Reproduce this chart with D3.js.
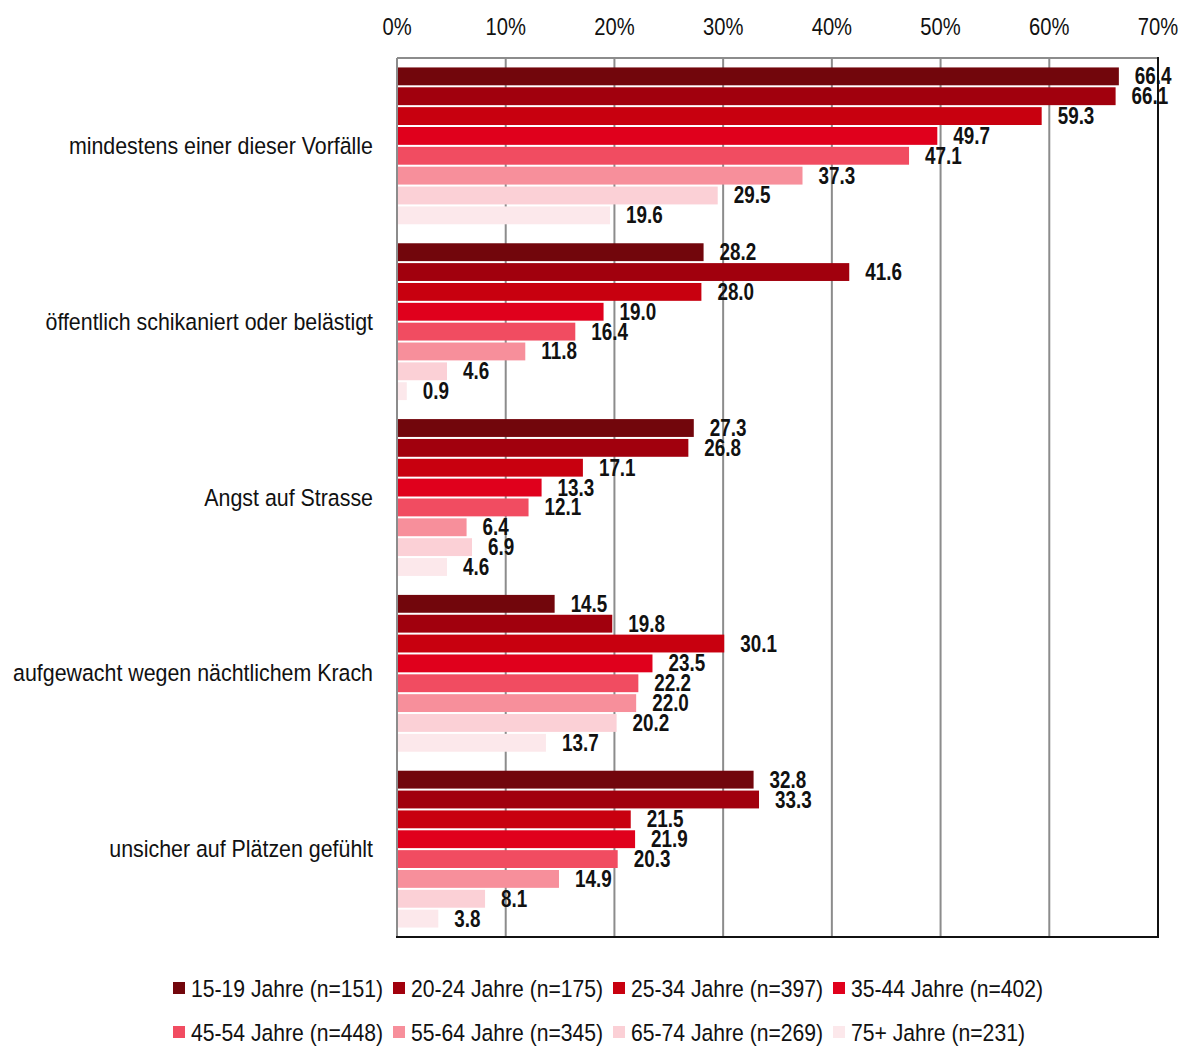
<!DOCTYPE html>
<meta charset="utf-8">
<script src="https://cdn.jsdelivr.net/npm/d3@7"></script>
<style>
body { margin: 0; background: #fff; }
svg text { font-family: "Liberation Sans", Arial, sans-serif; fill: #111; }
.grid line { stroke: #8c8c8c; stroke-width: 2; }
.val { font-weight: bold; font-size: 23px; }
</style>
<svg width="1182" height="1046"></svg>
<script>

// Kategorien (von oben nach unten)
var categories = [
    "mindestens einer dieser Vorfälle",
    "öffentlich schikaniert oder belästigt",
    "Angst auf Strasse",
    "aufgewacht wegen nächtlichem Krach",
    "unsicher auf Plätzen gefühlt"
];

var groups = [
    "15-19 Jahre (n=151)",
    "20-24 Jahre (n=175)",
    "25-34 Jahre (n=397)",
    "35-44 Jahre (n=402)",
    "45-54 Jahre (n=448)",
    "55-64 Jahre (n=345)",
    "65-74 Jahre (n=269)",
    "75+ Jahre (n=231)"
];

// Werte pro Altersgruppe, gleiche Reihenfolge wie categories
var v1519 = [66.4, 28.2, 27.3, 14.5, 32.8];
var v2024 = [66.1, 41.6, 26.8, 19.8, 33.3];
var v2534 = [59.3, 28.0, 17.1, 30.1, 21.5];
var v3544 = [49.7, 19.0, 13.3, 23.5, 21.9];
var v4554 = [47.1, 16.4, 12.1, 22.2, 20.3];
var v5564 = [37.3, 11.8, 6.4, 22.0, 14.9];
var v6574 = [29.5, 4.6, 6.9, 20.2, 8.1];
var v75 = [19.6, 0.9, 4.6, 13.7, 3.8];
var series = [v1519, v2024, v2534, v3544, v4554, v5564, v6574, v75];

var ticks = [0, 10, 20, 30, 40, 50, 60, 70];

var colors = ["#72060c", "#a1000d", "#c8000f", "#e0001c", "#f14c61", "#f78f9b", "#fbd0d6", "#fce8eb"];

var svg = d3.select("svg");
var plotLeft = 397, plotRight = 1158, plotTop = 58, plotBottom = 937;

var x = d3.scaleLinear().domain([0, 70]).range([plotLeft, plotRight]);
var y0 = d3.scaleBand().domain(categories).range([plotTop, plotBottom]).paddingInner(0.0966).paddingOuter(0.048);
var y1 = d3.scaleBand().domain(d3.range(groups.length)).range([0, y0.bandwidth()]).padding(0);

// schmale Schrift nachbilden
function narrow(px, py, sx) {
    return "translate(" + px + "," + py + ") scale(" + sx + ",1)";
}

// Gitterlinien
var grid = svg.append("g").attr("class", "grid");
grid.selectAll("line")
    .data(ticks.slice(1, -1))
    .enter().append("line")
    .attr("x1", function(d) { return x(d); })
    .attr("x2", function(d) { return x(d); })
    .attr("y1", plotTop)
    .attr("y2", plotBottom);

// Rahmen
svg.append("line").attr("x1", plotLeft).attr("x2", plotRight).attr("y1", plotTop).attr("y2", plotTop)
    .attr("stroke", "#8c8c8c").attr("stroke-width", 2);
svg.append("line").attr("x1", plotLeft).attr("x2", plotLeft).attr("y1", plotTop).attr("y2", plotBottom)
    .attr("stroke", "#8c8c8c").attr("stroke-width", 2);

// Achsenbeschriftung oben
svg.append("g").selectAll("text")
    .data(ticks)
    .enter().append("text")
    .attr("transform", function(d) { return narrow(x(d), 35, 0.86); })
    .attr("text-anchor", "middle")
    .attr("font-size", 23.5)
    .text(function(d) { return d + "%"; });

// Balken
var cat = svg.append("g").selectAll("g")
    .data(categories)
    .enter().append("g")
    .attr("transform", function(d) { return "translate(0," + y0(d) + ")"; });

cat.selectAll("rect")
    .data(function(d, ci) { return series.map(function(s, si) { return {si: si, v: s[ci]}; }); })
    .enter().append("rect")
    .attr("x", x(0) + 1)
    .attr("y", function(d) { return y1(d.si) + 1; })
    .attr("width", function(d) { return x(d.v) - x(0) - 1; })
    .attr("height", y1.bandwidth() - 2)
    .attr("fill", function(d) { return colors[d.si]; });

cat.selectAll("text.val")
    .data(function(d, ci) { return series.map(function(s, si) { return {si: si, v: s[ci]}; }); })
    .enter().append("text")
    .attr("class", "val")
    .attr("transform", function(d) { return narrow(x(d.v) + 16, y1(d.si) + y1.bandwidth() / 2 + 8, 0.82); })
    .text(function(d) { return d3.format(".1f")(d.v); });

// Kategorienamen
svg.append("g").selectAll("text")
    .data(categories)
    .enter().append("text")
    .attr("transform", function(d) { return narrow(373, y0(d) + y0.bandwidth() / 2 + 8, 0.91); })
    .attr("text-anchor", "end")
    .attr("font-size", 23.5)
    .text(function(d) { return d; });

// rechter und unterer Rahmen (dunkel)
svg.append("line").attr("x1", plotRight).attr("x2", plotRight).attr("y1", plotTop - 1).attr("y2", plotBottom + 1)
    .attr("stroke", "#111").attr("stroke-width", 2);
svg.append("line").attr("x1", plotLeft - 1).attr("x2", plotRight + 1).attr("y1", plotBottom).attr("y2", plotBottom)
    .attr("stroke", "#111").attr("stroke-width", 2);

// Legende
var legend = svg.append("g").selectAll("g")
    .data(groups)
    .enter().append("g")
    .attr("transform", function(d, i) {
        return "translate(" + (173 + (i % 4) * 220) + "," + (i < 4 ? 988 : 1032) + ")";
    });
legend.append("rect")
    .attr("x", 0).attr("y", -6)
    .attr("width", 12).attr("height", 12)
    .attr("fill", function(d, i) { return colors[i]; });
legend.append("text")
    .attr("transform", narrow(18, 8.5, 0.9))
    .attr("font-size", 23.5)
    .text(function(d) { return d; });

</script>
